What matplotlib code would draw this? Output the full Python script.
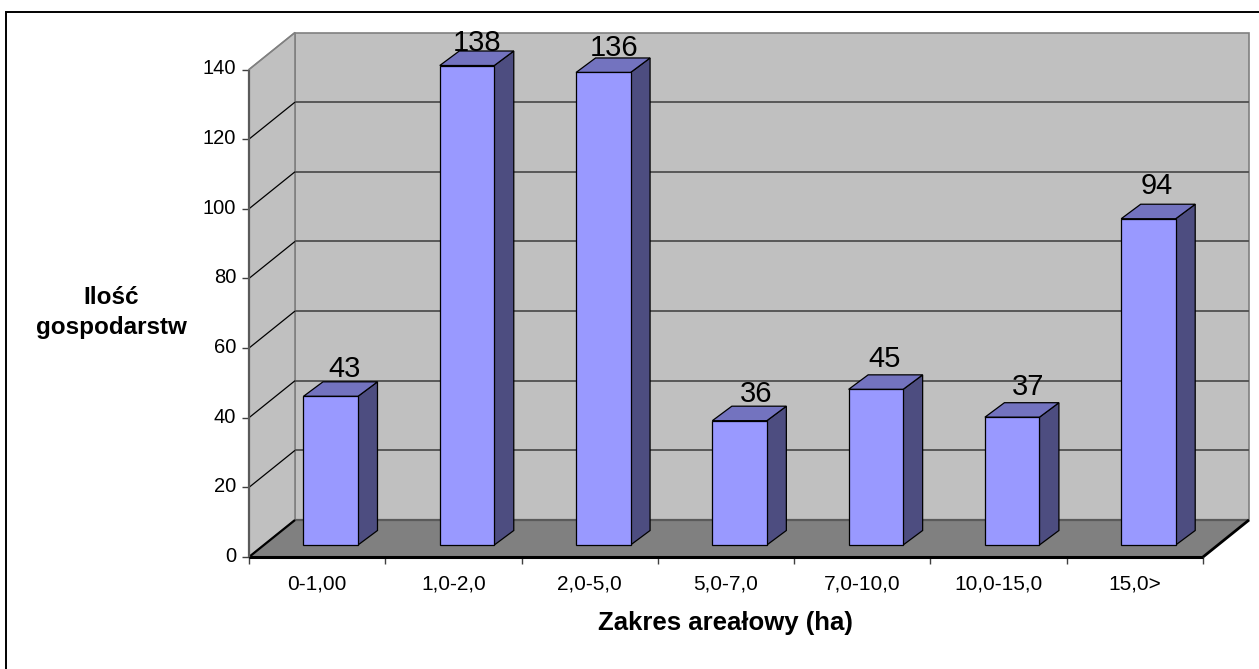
import matplotlib
matplotlib.use("Agg")
import matplotlib.pyplot as plt
from matplotlib.patches import Polygon, Rectangle
from matplotlib.transforms import ScaledTranslation

plt.rcParams['font.family'] = ['Liberation Sans', 'DejaVu Sans']

categories = ['0-1,00', '1,0-2,0', '2,0-5,0', '5,0-7,0', '7,0-10,0', '10,0-15,0', '15,0>']
values = [43, 138, 136, 36, 45, 37, 94]
y_ticks = [0, 20, 40, 60, 80, 100, 120, 140]
label_nudge_px = [(4, 1), (0, -3), (1, -1), (7, 1), (-1, 4), (6, 4), (-1, 7)]

W, H = 1259, 669
fig = plt.figure(figsize=(W / 100, H / 100), dpi=100, facecolor='white')
fig.patches.append(Rectangle((6 / W, -20 / H), (W + 20) / W, (H - 11.5 + 20) / H, transform=fig.transFigure,
                             fill=False, ec='black', lw=1.4))

L, R, B, T = 249, 1203, 557, 69.5
ax = fig.add_axes([L / W, (H - B) / H, (R - L) / W, (B - T) / H])
ax.set_xlim(0, len(categories))
ax.set_ylim(0, 140)
ax.patch.set_visible(False)
for s in ax.spines.values():
    s.set_visible(False)

ux = (R - L) / len(categories)
uy = (B - T) / 140
DX, DY = 46 / ux, 37 / uy            # floor depth in data units
BX, BY = 13.6 / ux, 12 / uy          # bar front offset from the front plane
SX, SY = 19.5 / ux, 14.5 / uy        # bar depth
BW = 54.5 / ux
n = len(categories)


def poly(pts, fc, ec='none', lw=0.0, z=1):
    ax.add_patch(Polygon(pts, closed=True, fc=fc, ec=ec, lw=lw, zorder=z, clip_on=False, joinstyle='miter'))


def line(xs, ys, c, lw, z=2):
    ax.plot(xs, ys, color=c, lw=lw, zorder=z, clip_on=False, solid_capstyle='butt')


# walls and floor
poly([(DX, DY), (n + DX, DY), (n + DX, 140 + DY), (DX, 140 + DY)], '#C0C0C0', '#808080', 1.2, 1)
poly([(0, 0), (DX, DY), (DX, 140 + DY), (0, 140)], '#C0C0C0', '#808080', 1.2, 1)
poly([(0, 0), (n, 0), (n + DX, DY), (DX, DY)], '#808080', 'none', 0, 1.5)
line([DX, n + DX], [DY, DY], '#5A5A5A', 1.6, 1.6)
line([0, n], [0, 0], 'black', 2.2, 2)
line([n, n + DX], [0, DY], 'black', 2.0, 2)
line([0, DX], [0, DY], 'black', 1.6, 2)
line([0, 0], [0, 140], '#5A5A5A', 1.6, 2)

# gridlines on side and back wall
for v in y_ticks[1:]:
    if v < 140:
        line([DX, n + DX], [v + DY, v + DY], '#505050', 1.3, 1.8)
    line([0, DX], [v, v + DY], 'black' if v < 140 else '#808080', 0.9, 1.8)

# bars
for i, v in enumerate(values):
    x0 = i + 0.5 - BW / 2 + BX
    x1 = x0 + BW
    bot = BY
    top = v + BY - 0.3
    poly([(x1, bot), (x1 + SX, bot + SY), (x1 + SX, top + SY), (x1, top)], '#4D4D80', 'black', 0.9, 3)
    poly([(x0, top), (x1, top), (x1 + SX, top + SY), (x0 + SX, top + SY)], '#7373BF', 'black', 0.9, 3)
    poly([(x0, bot), (x1, bot), (x1, top), (x0, top)], '#9999FF', 'black', 0.9, 3)
    nx, ny = label_nudge_px[i]
    ax.annotate(str(v), (x0 + (BW + SX) / 2, top + SY), xytext=(nx * 0.72, ny * 0.72 + 2.5),
                textcoords='offset points', ha='center', va='baseline',
                fontsize=21, color='black', zorder=5, annotation_clip=False)

# axes ticks
ax.set_yticks(y_ticks)
ax.tick_params(axis='y', length=5, width=1, color='#404040', labelsize=14.5, pad=4.3, labelcolor='black')
for lab in ax.get_yticklabels():
    lab.set_transform(lab.get_transform() + ScaledTranslation(0, 2.5 / 100, fig.dpi_scale_trans))
ax.set_xticks(range(n + 1))
ax.set_xticklabels([])
ax.set_xticks([i + 0.5 for i in range(n)], minor=True)
ax.set_xticklabels(categories, minor=True)
ax.tick_params(axis='x', which='major', length=5, width=1, color='#404040')
ax.tick_params(axis='x', which='minor', length=0, labelsize=15, pad=12.5, labelcolor='black')

fig.text(725 / W, 1 - 623 / H, 'Zakres areałowy (ha)', ha='center', va='center',
         fontsize=18.5, fontweight='bold')
fig.text(111 / W, 1 - 312.5 / H, 'Ilość\ngospodarstw', ha='center', va='center',
         fontsize=17.5, fontweight='bold', linespacing=1.42)

fig.savefig('out.png', dpi=100)
